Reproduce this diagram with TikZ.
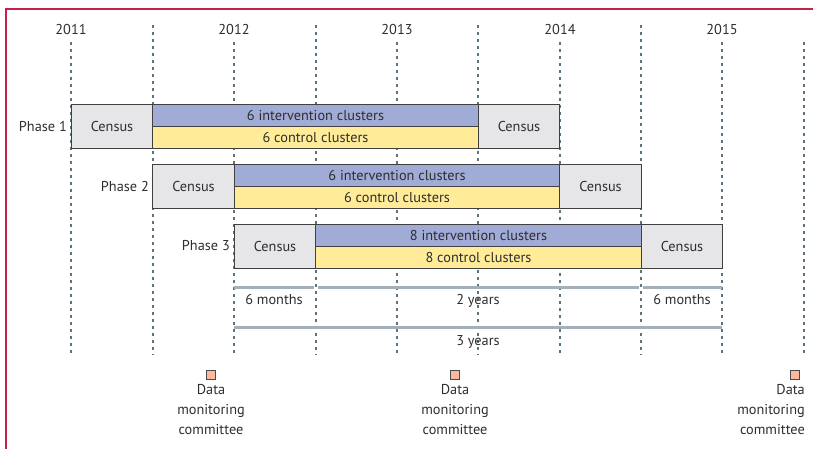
\documentclass[tikz,border=0pt]{standalone}
\usepackage{fontspec}
\setmainfont{PT Sans}
\usepackage{tikz}
\usetikzlibrary{positioning}
\usepackage{xcolor}

\definecolor{framered}{HTML}{C0224A}
\definecolor{gridblue}{HTML}{5E7380}
\definecolor{armblue}{HTML}{A0ABD6}
\definecolor{armyellow}{HTML}{FFEB98}
\definecolor{censusgray}{HTML}{E6E6E8}
\definecolor{spangray}{HTML}{A4AFB7}
\definecolor{dmcfill}{HTML}{F9B99A}
\definecolor{textgray}{HTML}{2E2E2E}

\begin{document}
\begin{tikzpicture}[
  x=1pt, y=-1pt,
  every node/.style={font=\fontsize{14.3}{17}\selectfont, text=textgray},
  census/.style={
    draw=black!75,
    line width=0.9pt,
    fill=censusgray,
    minimum width=81.5pt,
    minimum height=44pt,
    inner sep=0pt
  },
  arm/.style={
    draw=black!75,
    line width=0.9pt,
    minimum width=325.5pt,
    minimum height=22pt,
    inner sep=0pt
  },
  intervention/.style={arm,fill=armblue},
  control/.style={arm,fill=armyellow},
  phase/.style={anchor=east,inner sep=0pt},
  year/.style={inner sep=0pt,anchor=base},
  duration/.style={inner sep=0pt,anchor=base},
  span/.style={draw=spangray,line width=3pt},
  gridline/.style={draw=gridblue,line width=1.1pt,dash pattern=on 3pt off 4pt},
  marker/.style={
    draw=black!70,
    fill=dmcfill,
    line width=0.7pt,
    minimum size=9pt,
    inner sep=0pt
  },
  committee/.style={align=center,inner sep=0pt,font=\fontsize{14.3}{20}\selectfont}
]
\useasboundingbox (0,0) rectangle (813,449);

% Frame
\draw[framered,line width=1.4pt] (6,449) -- (6,9) -- (813,9);

% Calendar grid: whole years and half years
\foreach \gx in {71,234,397,560,722,804}
  \draw[gridline] (\gx,42) -- (\gx,355);
\foreach \gx in {153,316,478,641}
  \draw[gridline] (\gx,25) -- (\gx,355);

\node[year] (y2011) at (71,35) {2011};
\node[year] (y2012) at (234,35) {2012};
\node[year] (y2013) at (397,35) {2013};
\node[year] (y2014) at (560,35) {2014};
\node[year] (y2015) at (722,35) {2015};

% Phase 1
\node[census] (census1a) at (112,126) {Census};
\node[intervention] (int1) at (315.5,115) {6 intervention clusters};
\node[control] (ctl1) at (315.5,137) {6 control clusters};
\node[census] (census1b) at (519,126) {Census};
\node[phase] (phase1) at (67,126) {Phase 1};

% Phase 2
\node[census] (census2a) at (193.5,186) {Census};
\node[intervention] (int2) at (397,175) {6 intervention clusters};
\node[control] (ctl2) at (397,197) {6 control clusters};
\node[census] (census2b) at (600.5,186) {Census};
\node[phase] (phase2) at (149,186) {Phase 2};

% Phase 3
\node[census] (census3a) at (275,246) {Census};
\node[intervention] (int3) at (478.5,235) {8 intervention clusters};
\node[control] (ctl3) at (478.5,257) {8 control clusters};
\node[census] (census3b) at (682,246) {Census};
\node[phase] (phase3) at (230,246) {Phase 3};

% Durations
\draw[span] (234,287) -- (314,287);
\draw[span] (318,287) -- (639,287);
\draw[span] (643,287) -- (722,287);
\draw[span] (234,327) -- (722,327);
\node[duration] (before) at (274,304) {6 months};
\node[duration] (trial) at (478,304) {2 years};
\node[duration] (after) at (682,304) {6 months};
\node[duration] (total) at (478,345) {3 years};

% Data monitoring committee meetings
\node[marker] (dmc1) at (211,375) {};
\node[marker] (dmc2) at (455,375) {};
\node[marker] (dmc3) at (795,375) {};
\node[committee,below=4pt of dmc1] (dmc1text) {Data\\monitoring\\committee};
\node[committee,below=4pt of dmc2] (dmc2text) {Data\\monitoring\\committee};
\node[committee,align=right,anchor=north east] (dmc3text) at (805,384) {Data\\monitoring\\committee};
\end{tikzpicture}
\end{document}
